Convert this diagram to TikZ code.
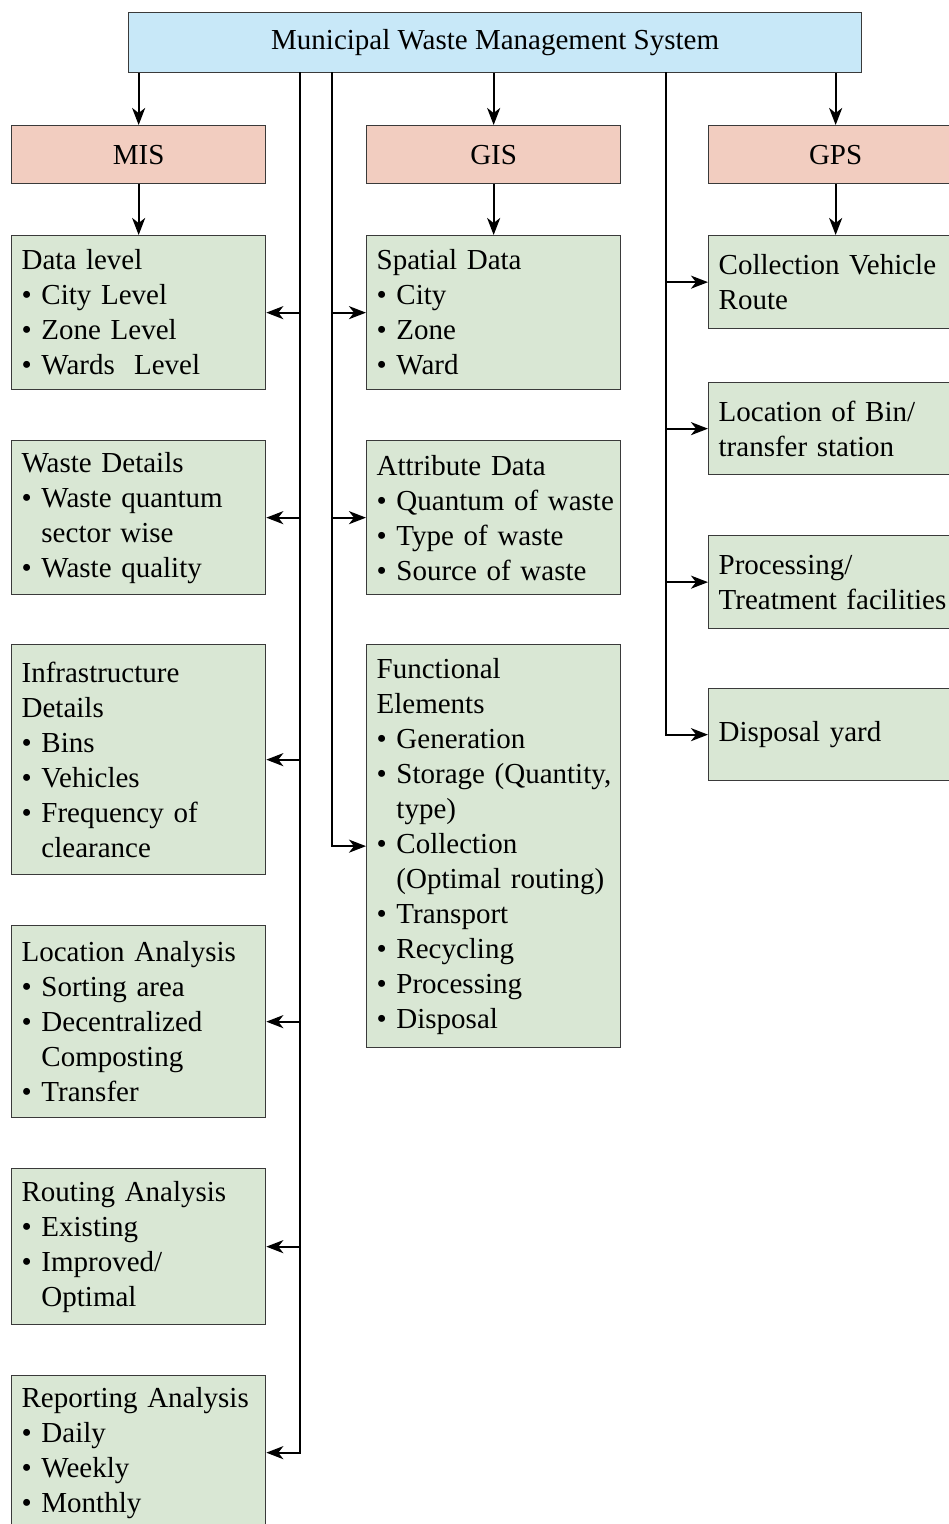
\documentclass[tikz,border=0pt]{standalone}
\usepackage{fontspec}
\setmainfont{Liberation Serif}
\usetikzlibrary{arrows.meta}

\definecolor{topblue}{HTML}{C8E8F8}
\definecolor{catpink}{HTML}{F2CDC0}
\definecolor{leafgreen}{HTML}{D9E7D4}
\definecolor{edgegray}{HTML}{3A3A3A}

% bullet item and the indent of its continuation lines
\newcommand{\bpt}{\textbullet\ }
\newcommand{\bindent}{\hphantom{\textbullet\ }}

\tikzset{
  boxbase/.style={draw=edgegray, line width=1.3pt, anchor=north west,
    font=\fontsize{29}{35}\selectfont, inner sep=0pt},
  topbox/.style={boxbase, fill=topblue, minimum width=733pt, minimum height=60pt},
  catbox/.style={boxbase, fill=catpink, minimum width=254pt, minimum height=58pt},
  leafbox/.style={boxbase, fill=leafgreen, text width=234pt, inner xsep=10pt,
    align=left},
  wire/.style={line width=2.3pt, black},
  arr/.style={wire, -{Stealth[length=17pt, width=13pt, inset=5pt]}},
}

\begin{document}
\begin{tikzpicture}[x=1pt, y=-1pt]
\useasboundingbox (0,0) rectangle (949,1524);
\clip (0,0) rectangle (949,1524);

% root
\node[topbox] (top) at (128,12) {Municipal Waste Management System};

% the three systems
\node[catbox] (mis) at (11,125) {MIS};
\node[catbox] (gis) at (366,125) {GIS};
\node[catbox] (gps) at (708,125) {GPS};

% MIS column
\node[leafbox, minimum height=154pt] (dl) at (11,235)
  {Data level\\\bpt City Level\\\bpt Zone Level\\\bpt Wards\ \ Level};
\node[leafbox, minimum height=154pt] (wd) at (11,440)
  {Waste Details\\\bpt Waste quantum\\\bindent sector wise\\\bpt Waste quality};
\node[leafbox, minimum height=230pt] (inf) at (11,644)
  {Infrastructure\\Details\\\bpt Bins\\\bpt Vehicles\\\bpt Frequency of\\\bindent clearance};
\node[leafbox, minimum height=192pt] (loc) at (11,925)
  {Location Analysis\\\bpt Sorting area\\\bpt Decentralized\\\bindent Composting\\\bpt Transfer};
\node[leafbox, minimum height=156pt] (rout) at (11,1168)
  {Routing Analysis\\\bpt Existing\\\bpt Improved/\\\bindent Optimal};
\node[leafbox, minimum height=154pt] (rep) at (11,1375)
  {Reporting Analysis\\\bpt Daily\\\bpt Weekly\\\bpt Monthly};

% GIS column
\node[leafbox, minimum height=154pt] (sp) at (366,235)
  {Spatial Data\\\bpt City\\\bpt Zone\\\bpt Ward};
\node[leafbox, minimum height=154pt] (att) at (366,440)
  {Attribute Data\\\mbox{\bpt Quantum of waste}\\\bpt Type of waste\\\bpt Source of waste};
\node[leafbox, minimum height=403pt] (fun) at (366,644)
  {Functional\\Elements\\\bpt Generation\\\mbox{\bpt Storage (Quantity,}\\\bindent type)\\\bpt Collection\\\mbox{\bindent (Optimal routing)}\\\bpt Transport\\\bpt Recycling\\\bpt Processing\\\bpt Disposal};

% GPS column
\node[leafbox, minimum height=93pt] (cvr) at (708,235)
  {\mbox{Collection Vehicle}\\Route};
\node[leafbox, minimum height=92pt] (bin) at (708,382)
  {Location of Bin/\\transfer station};
\node[leafbox, minimum height=93pt] (proc) at (708,535)
  {Processing/\\\mbox{Treatment facilities}};
\node[leafbox, minimum height=92pt] (disp) at (708,688)
  {Disposal yard};

% root to systems
\draw[arr] (top.south -| mis.north) -- (mis.north);
\draw[arr] (top.south -| gis.north) -- (gis.north);
\draw[arr] (top.south -| gps.north) -- (gps.north);

% systems to their first detail box
\draw[arr] (mis.south) -- (mis.south |- dl.north);
\draw[arr] (gis.south) -- (gis.south |- sp.north);
\draw[arr] (gps.south) -- (gps.south |- cvr.north);

% bus lines
\coordinate (busmis) at (300,72);
\coordinate (busgis) at (332,72);
\coordinate (busgps) at (666,72);

\draw[arr] (busmis) |- (rep.east);
\foreach \n in {dl, wd, inf, loc, rout}
  \draw[arr] (busmis |- \n.east) -- (\n.east);

\draw[arr] (busgis) |- (fun.west);
\foreach \n in {sp, att}
  \draw[arr] (busgis |- \n.west) -- (\n.west);

\draw[arr] (busgps) |- (disp.west);
\foreach \n in {cvr, bin, proc}
  \draw[arr] (busgps |- \n.west) -- (\n.west);
\end{tikzpicture}
\end{document}
